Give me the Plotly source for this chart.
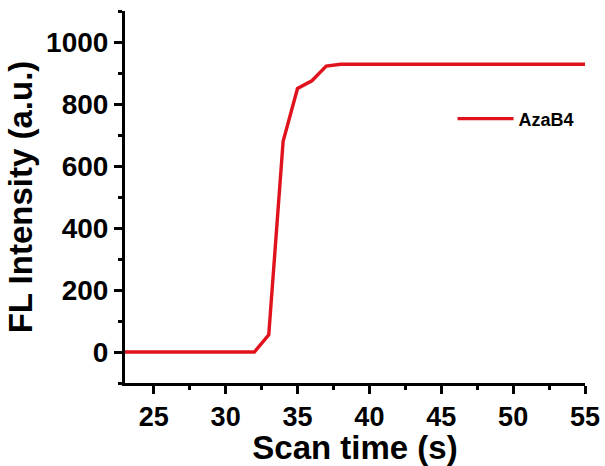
import plotly.graph_objects as go

scan_time = [23, 24, 25, 26, 27, 28, 29, 30, 31, 32, 33, 34, 35, 36, 37, 38, 40, 45, 50, 55]
intensity = [0, 0, 0, 0, 0, 0, 0, 0, 0, 0, 55, 680, 850, 875, 922, 928, 928, 928, 928, 928]
series_name = "AzaB4"

x_tick_start, x_tick_step = 25, 5
y_tick_start, y_tick_step = 0, 200

FONT = "Liberation Sans, Arial, sans-serif"
CLEAR = "rgba(0,0,0,0)"

fig = go.Figure()
fig.add_trace(go.Scatter(
    x=scan_time, y=intensity, mode="lines", name=series_name,
    line=dict(color="#e0121b", width=3.4),
))

fig.update_xaxes(
    range=[23, 55], tick0=x_tick_start, dtick=x_tick_step,
    showline=True, linecolor="black", linewidth=3, automargin=False,
    ticks="outside", ticklen=8, tickwidth=3, tickcolor="#000000",
    gridcolor=CLEAR, zerolinecolor=CLEAR,
    tickfont=dict(family=FONT, size=27, color="black", weight="bold"),
    minor=dict(ticks="outside", ticklen=4, tickwidth=3, tickcolor="black",
               tick0=x_tick_start, dtick=x_tick_step / 2),
    title=dict(text="Scan time (s)", font=dict(family=FONT, size=33, color="black", weight="bold"), standoff=2),
)
fig.update_yaxes(
    range=[-100, 1100], tick0=y_tick_start, dtick=y_tick_step,
    showline=True, linecolor="black", linewidth=3, automargin=False,
    ticks="outside", ticklen=8, tickwidth=3, tickcolor="#000000",
    gridcolor=CLEAR, zerolinecolor=CLEAR,
    tickfont=dict(family=FONT, size=28, color="black", weight="bold"),
    minor=dict(ticks="outside", ticklen=4, tickwidth=3, tickcolor="black",
               tick0=y_tick_start, dtick=y_tick_step / 2),
    title=dict(text="FL Intensity (a.u.)", font=dict(family=FONT, size=33, color="black", weight="bold"), standoff=4),
)

fig.update_layout(
    width=605, height=466,
    margin=dict(l=125, r=20, t=11, b=83),
    paper_bgcolor="white", plot_bgcolor="white",
    showlegend=True,
    legend=dict(
        x=0.712, y=0.71, xanchor="left", yanchor="middle",
        bgcolor=CLEAR, itemwidth=56,
        font=dict(family=FONT, size=18, color="black", weight="bold"),
    ),
)

fig.write_html("out.html")
